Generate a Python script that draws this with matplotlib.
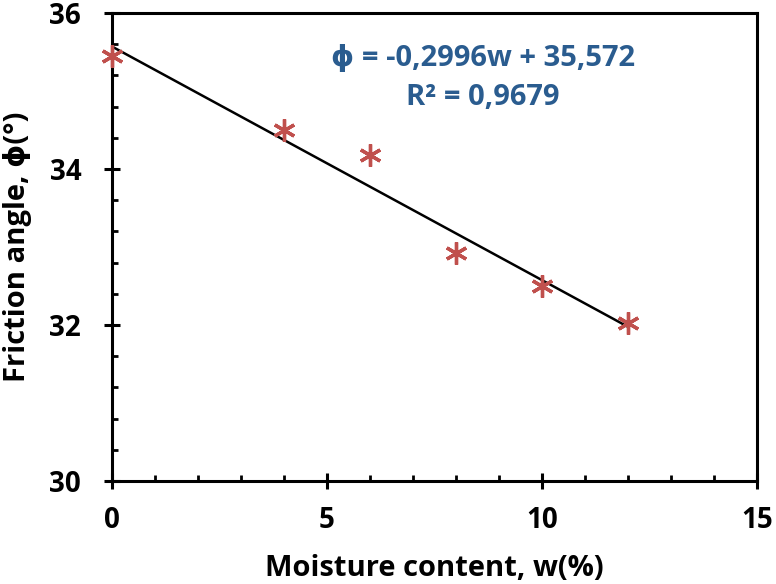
import matplotlib
matplotlib.use("Agg")
import matplotlib.pyplot as plt
import numpy as np
from matplotlib.ticker import MultipleLocator

# data
moisture = [0, 4, 6, 8, 10, 12]
friction = [35.45, 34.5, 34.18, 32.92, 32.5, 32.02]

# trendline printed on the chart
slope = -0.2996
intercept = 35.572
r2 = 0.9679

plt.rcParams["font.family"] = ["Open Sans", "DejaVu Sans"]
plt.rcParams["font.weight"] = "bold"

fig = plt.figure(figsize=(7.76, 5.84), dpi=100)
ax = fig.add_axes([0.144, 0.1764, 0.8315, 0.8013])

xfit = np.array([min(moisture), max(moisture)])
ax.plot(xfit, slope * xfit + intercept, color="black", lw=1.8, zorder=2)
ax.plot(moisture, friction, linestyle="none", marker=(6, 2, 0),
        markersize=16, markeredgewidth=2.4, color="#C0504D", zorder=3,
        clip_on=False)

eq = f"ϕ = {slope:.4f}w + {intercept:.3f}\nR² = {r2:.4f}".replace(".", ",")
ax.text(8.63, 35.17, eq, ha="center", va="center", fontsize=21,
        fontweight="bold", color="#2A5C8F", linespacing=1.45)

ax.set_xlim(0, 15)
ax.set_ylim(30, 36)
ax.xaxis.set_major_locator(MultipleLocator(5))
ax.xaxis.set_minor_locator(MultipleLocator(1))
ax.yaxis.set_major_locator(MultipleLocator(2))
ax.yaxis.set_minor_locator(MultipleLocator(0.4))

for side in ax.spines.values():
    side.set_linewidth(2.2)

ax.tick_params(which="major", direction="inout", length=12, width=2.2,
               labelsize=20, top=False, right=False)
ax.tick_params(axis="x", which="major", pad=12)
ax.tick_params(axis="y", which="major", pad=16)
ax.tick_params(which="minor", direction="in", length=4.5, width=2,
               top=False, right=False)
for lab in ax.get_xticklabels() + ax.get_yticklabels():
    lab.set_fontweight("bold")

ax.set_xlabel("Moisture content, w(%)", fontsize=21, fontweight="bold", va="center")
ax.set_ylabel("Friction angle, ϕ(°)", fontsize=21, fontweight="bold", va="center")
ax.xaxis.set_label_coords(0.5, -0.186)
ax.yaxis.set_label_coords(-0.146, 0.5)

fig.savefig("out.png", dpi=100)
